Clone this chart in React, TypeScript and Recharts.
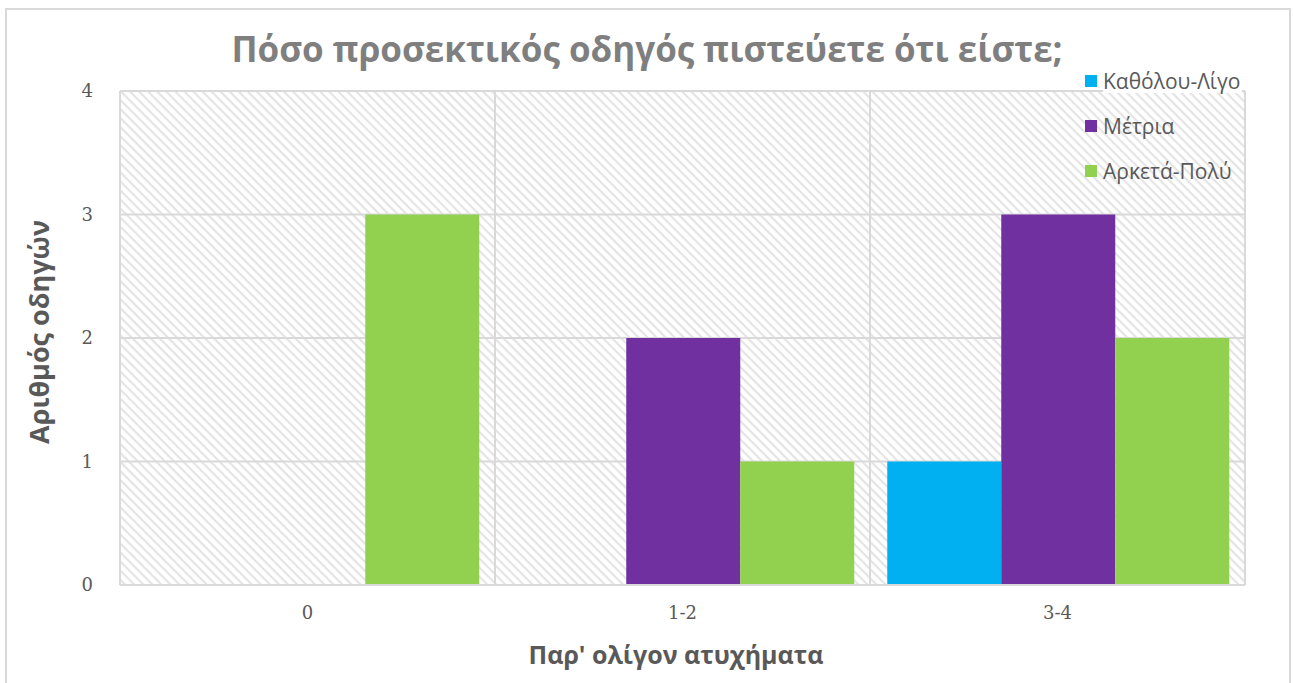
import React from 'react';
import { BarChart, Bar, XAxis, YAxis, CartesianGrid } from 'recharts';

const categories = ['0', '1-2', '3-4'];
const katholouLigo = [0, 0, 1];
const metria = [0, 2, 3];
const arketaPoly = [3, 1, 2];
const yTicks = [0, 1, 2, 3, 4];

const seriesNames = ['Καθόλου-Λίγο', 'Μέτρια', 'Αρκετά-Πολύ'];
const seriesColors = ['#00B0F0', '#7030A0', '#92D050'];

const data = categories.map((c, i) => ({
  cat: c,
  s0: katholouLigo[i],
  s1: metria[i],
  s2: arketaPoly[i],
}));

const W = 1293;
const H = 683;
const M = { top: 91, right: 48, bottom: 68, left: 0 };

export default function App() {
  return (
    <div style={{ position: 'absolute', left: 0, top: 0, width: W, height: H, background: '#fff', overflow: 'hidden' }}>
      <div style={{ position: 'absolute', left: 0, top: 0 }}>
        <BarChart width={W} height={H} data={data} margin={M} barGap={0} barCategoryGap="4.6%">
          <defs>
            <pattern id="hatch" patternUnits="userSpaceOnUse" width="6.4" height="6.4" patternTransform="rotate(-45)">
              <rect x="0" y="0" width="6.4" height="6.4" fill="#FFFFFF" />
              <line x1="1.6" y1="0" x2="1.6" y2="6.4" stroke="#E2E2E2" strokeWidth="2" />
            </pattern>
          </defs>
          <rect x={6} y={9} width={1284} height={690} fill="none" stroke="#D9D9D9" strokeWidth={2} />
          <text x={647} y={62} textAnchor="middle" fill="#7F7F7F" fontFamily='"Open Sans", sans-serif' fontWeight="bold" fontSize={35}>
            Πόσο προσεκτικός οδηγός πιστεύετε ότι είστε;
          </text>
          <text x={676} y={664} textAnchor="middle" fill="#595959" fontFamily='"Open Sans", sans-serif' fontWeight="bold" fontSize={25}>
            Παρ' ολίγον ατυχήματα
          </text>
          <text x={0} y={0} transform="translate(49,332) rotate(-90)" textAnchor="middle" fill="#595959" fontFamily='"Open Sans", sans-serif' fontWeight="bold" fontSize={27}>
            Αριθμός οδηγών
          </text>
          <CartesianGrid
            fill="url(#hatch)"
            fillOpacity={1}
            stroke="#D9D9D9"
            strokeWidth={2}
            verticalCoordinatesGenerator={({ offset }: any) =>
              categories.map((_, i) => offset.left + ((i + 1) * offset.width) / categories.length)
            }
          />
          <XAxis
            dataKey="cat"
            axisLine={{ stroke: '#D9D9D9', strokeWidth: 2 }}
            tickLine={false}
            tickMargin={15}
            tick={{ fill: '#595959', fontFamily: '"DejaVu Serif", serif', fontSize: 18 }}
          />
          <YAxis
            domain={[0, 4]}
            ticks={yTicks}
            width={120}
            axisLine={{ stroke: '#D9D9D9', strokeWidth: 2 }}
            tickLine={false}
            tickMargin={21}
            tick={{ fill: '#595959', fontFamily: '"DejaVu Serif", serif', fontSize: 18 }}
          />
          <Bar dataKey="s0" name={seriesNames[0]} fill={seriesColors[0]} isAnimationActive={false} />
          <Bar dataKey="s1" name={seriesNames[1]} fill={seriesColors[1]} isAnimationActive={false} />
          <Bar dataKey="s2" name={seriesNames[2]} fill={seriesColors[2]} isAnimationActive={false} />
        </BarChart>
      </div>
      <div style={{ position: 'absolute', left: 1085, top: 58, fontFamily: '"Open Sans", sans-serif', fontSize: 21, color: '#595959' }}>
        {seriesNames.map((n, i) => (
          <div key={n} style={{ display: 'flex', alignItems: 'center', height: 45 }}>
            <span style={{ display: 'inline-block', width: 12, height: 12, background: seriesColors[i], marginRight: 6 }} />
            <span style={{ background: i === 0 ? '#fff' : 'transparent', paddingRight: 2, lineHeight: '24px' }}>{n}</span>
          </div>
        ))}
      </div>
    </div>
  );
}
